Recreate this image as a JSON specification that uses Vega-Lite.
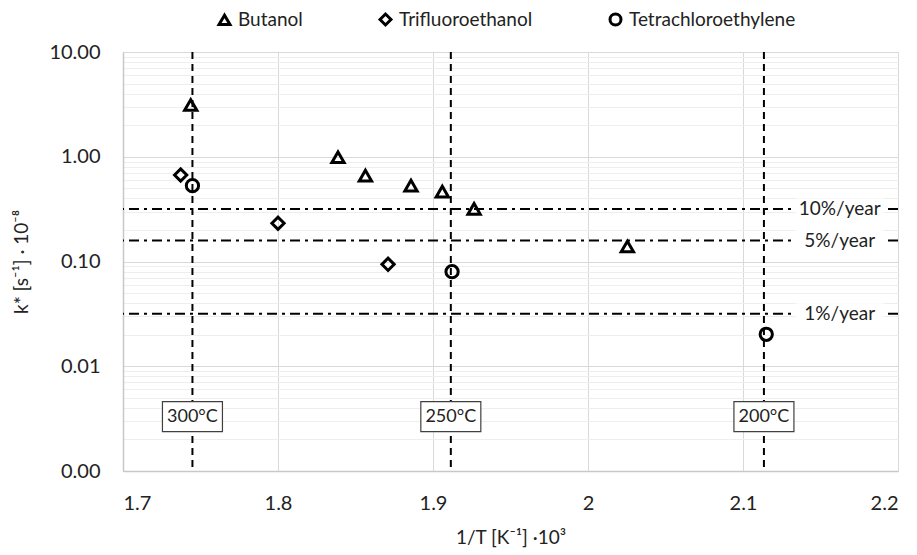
{
  "$schema": "https://vega.github.io/schema/vega-lite/v6.json",
  "width": 775,
  "height": 419,
  "autosize": {"type": "none"},
  "padding": {"left": 123, "top": 52, "right": 19, "bottom": 84},
  "background": "white",
  "config": {
    "view": {"stroke": null},
    "font": "Lato",
    "text": {"font": "Lato"}
  },
  "datasets": {
    "pts": [
      {"series": "Butanol", "x": 1.7437, "y": 3.12},
      {"series": "Butanol", "x": 1.8387, "y": 0.99},
      {"series": "Butanol", "x": 1.8564, "y": 0.66},
      {"series": "Butanol", "x": 1.8858, "y": 0.53},
      {"series": "Butanol", "x": 1.906, "y": 0.465},
      {"series": "Butanol", "x": 1.9265, "y": 0.318},
      {"series": "Butanol", "x": 2.0254, "y": 0.139},
      {"series": "Trifluoroethanol", "x": 1.7372, "y": 0.67},
      {"series": "Trifluoroethanol", "x": 1.8, "y": 0.232},
      {"series": "Trifluoroethanol", "x": 1.871, "y": 0.094},
      {"series": "Tetrachloroethylene", "x": 1.7448, "y": 0.53},
      {"series": "Tetrachloroethylene", "x": 1.9123, "y": 0.08},
      {"series": "Tetrachloroethylene", "x": 2.115, "y": 0.0202}
    ],
    "temps": [
      {"x": 1.7448, "y": 0.0033, "label": "300°C"},
      {"x": 1.9115, "y": 0.0033, "label": "250°C"},
      {"x": 2.1135, "y": 0.0033, "label": "200°C"}
    ],
    "rates": [
      {"x": 2.1624, "y": 0.317, "label": "10%/year"},
      {"x": 2.1624, "y": 0.1585, "label": "5%/year"},
      {"x": 2.1624, "y": 0.0317, "label": "1%/year"}
    ]
  },
  "layer": [
    {
      "data": {"name": "pts"},
      "mark": {"type": "point", "filled": false, "stroke": "black", "strokeWidth": 2.5, "size": 140, "opacity": 0},
      "encoding": {
        "x": {
          "field": "x", "type": "quantitative",
          "scale": {"domain": [1.7, 2.2], "nice": false, "zero": false},
          "axis": {
            "title": "1/T [K⁻¹] ·10³",
            "values": [1.7, 1.8, 1.9, 2.0, 2.1, 2.2],
            "format": ".1~f",
            "ticks": false,
            "grid": true,
            "gridColor": "#d9d9d9",
            "gridWidth": 1,
            "domainColor": "#c8c8c8",
            "domainWidth": 1.5,
            "labelFont": "Lato",
            "labelFontSize": 20,
            "labelColor": "#222",
            "labelPadding": 22,
            "labelOverlap": false,
            "titleFont": "Lato",
            "titleFontSize": 19,
            "titleFontWeight": "normal",
            "titleColor": "#222",
            "titlePadding": 15
          }
        },
        "y": {
          "field": "y", "type": "quantitative",
          "scale": {"type": "log", "domain": [0.001, 10], "nice": false},
          "axis": {
            "title": "k* [s⁻¹] · 10⁻⁸",
            "values": [0.001, 0.002, 0.003, 0.004, 0.005, 0.006, 0.007, 0.008, 0.009,
                       0.01, 0.02, 0.03, 0.04, 0.05, 0.06, 0.07, 0.08, 0.09,
                       0.1, 0.2, 0.3, 0.4, 0.5, 0.6, 0.7, 0.8, 0.9,
                       1, 2, 3, 4, 5, 6, 7, 8, 9, 10],
            "labelExpr": "abs(log(datum.value)/LN10 - round(log(datum.value)/LN10)) < 0.001 ? format(datum.value, '.2f') : ''",
            "ticks": false,
            "grid": true,
            "gridColor": {"condition": {"test": "abs(log(datum.value)/LN10 - round(log(datum.value)/LN10)) < 0.001", "value": "#d9d9d9"}, "value": "#eeeeee"},
            "gridWidth": 1,
            "domainColor": "#c8c8c8",
            "domainWidth": 1.5,
            "labelFont": "Lato",
            "labelFontSize": 20,
            "labelColor": "#222",
            "labelPadding": 23,
            "labelOverlap": false,
            "labelBound": false,
            "titleFont": "Lato",
            "titleFontSize": 19,
            "titleFontWeight": "normal",
            "titleColor": "#222",
            "titlePadding": 17
          }
        },
        "shape": {
          "field": "series", "type": "nominal",
          "scale": {"domain": ["Butanol", "Trifluoroethanol", "Tetrachloroethylene"], "range": ["triangle-up", "diamond", "circle"]},
          "legend": {
            "title": null,
            "orient": "none",
            "direction": "horizontal",
            "legendX": 92,
            "legendY": -42,
            "padding": 0,
            "columnPadding": 71,
            "labelFont": "Lato",
            "labelFontSize": 19,
            "labelLimit": 400,
            "labelColor": "#222",
            "labelOffset": 4,
            "symbolSize": 120,
            "symbolStrokeWidth": 3,
            "symbolStrokeColor": "black",
            "symbolOpacity": 1
          }
        }
      }
    },
    {
      "data": {"name": "temps"},
      "mark": {"type": "rule", "color": "black", "strokeWidth": 2, "strokeDash": [7, 5]},
      "encoding": {"x": {"field": "x", "type": "quantitative"}}
    },
    {
      "data": {"name": "rates"},
      "mark": {"type": "rule", "color": "black", "strokeWidth": 2, "strokeDash": [10, 5, 3, 5]},
      "encoding": {"y": {"field": "y", "type": "quantitative"}}
    },
    {
      "data": {"name": "pts"},
      "mark": {"type": "point", "filled": false, "stroke": "black", "strokeWidth": 3, "size": 150, "opacity": 1},
      "encoding": {
        "x": {"field": "x", "type": "quantitative"},
        "y": {"field": "y", "type": "quantitative"},
        "shape": {"field": "series", "type": "nominal"}
      }
    },
    {
      "data": {"name": "temps"},
      "mark": {"type": "point", "shape": "M-1,-0.5H1V0.5H-1Z", "size": 3600, "filled": true, "fill": "white", "stroke": "#404040", "strokeWidth": 1.2, "opacity": 1},
      "encoding": {
        "x": {"field": "x", "type": "quantitative"},
        "y": {"field": "y", "type": "quantitative"}
      }
    },
    {
      "data": {"name": "temps"},
      "mark": {"type": "text", "fontSize": 18, "color": "#222", "align": "center", "baseline": "middle", "font": "Lato"},
      "encoding": {
        "x": {"field": "x", "type": "quantitative"},
        "y": {"field": "y", "type": "quantitative"},
        "text": {"field": "label"}
      }
    },
    {
      "data": {"name": "rates"},
      "mark": {"type": "point", "shape": "M-1,-0.24H1V0.24H-1Z", "size": 7744, "filled": true, "fill": "white", "strokeWidth": 0, "opacity": 1},
      "encoding": {
        "x": {"field": "x", "type": "quantitative"},
        "y": {"field": "y", "type": "quantitative"}
      }
    },
    {
      "data": {"name": "rates"},
      "mark": {"type": "text", "fontSize": 19, "color": "#222", "align": "center", "baseline": "middle", "font": "Lato"},
      "encoding": {
        "x": {"field": "x", "type": "quantitative"},
        "y": {"field": "y", "type": "quantitative"},
        "text": {"field": "label"}
      }
    }
  ]
}
